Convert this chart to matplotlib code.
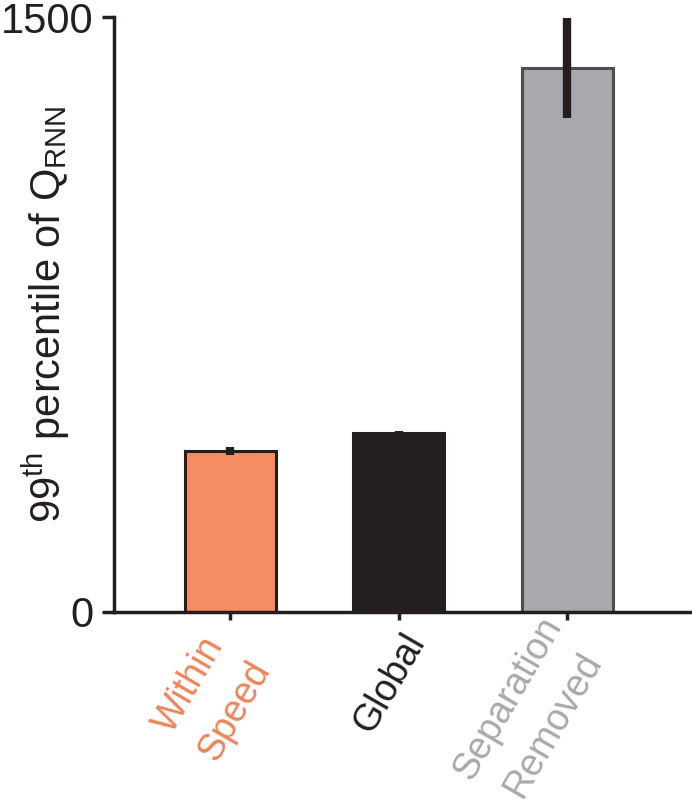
import matplotlib
matplotlib.use("Agg")
import matplotlib.pyplot as plt
import numpy as np

plt.rcParams['font.family'] = ['Liberation Sans', 'DejaVu Sans']

categories = ["Within\nSpeed", "Global", "Separation\nRemoved"]
values = [406, 451, 1371]
errors = [9, 5, 126]
bar_colors = ["#F68D62", "#231F20", "#A7A9AC"]
edge_colors = ["#231F20", "#231F20", "#4D4D4F"]
label_colors = ["#EE8459", "#231F20", "#A7A9AC"]
yticks = [0, 1500]

# pixel offsets of each category label (right-centre anchor) from its tick
label_offsets = [(9, -39), (18, -24), (9, -21)]

fig = plt.figure(figsize=(6.92, 8.06), dpi=100)
ax = fig.add_axes([0.165, 0.2407, 0.835, 0.738])

x = np.arange(len(categories))
ax.bar(x, values, width=0.54, color=bar_colors, edgecolor=edge_colors, linewidth=2.2, zorder=2)
ax.errorbar(x, values, yerr=errors, fmt='none', ecolor="#231F20", elinewidth=6, capsize=0, zorder=3, clip_on=False)

ax.set_xlim(-0.69, 2.74)
ax.set_ylim(0, 1500)
ax.set_yticks(yticks)
ax.set_yticklabels([str(t) for t in yticks], fontsize=30)
ax.set_xticks(x)
ax.set_xticklabels([])
for xi, cat, c, off in zip(x, categories, label_colors, label_offsets):
    ax.annotate(cat, xy=(xi, 0), xycoords='data', xytext=off, textcoords='offset pixels',
                rotation=60, rotation_mode='anchor', ha='right', va='center',
                multialignment='center', linespacing=1.6, fontsize=27, color=c,
                annotation_clip=False)

for s in ['top', 'right']:
    ax.spines[s].set_visible(False)
for s in ['left', 'bottom']:
    ax.spines[s].set_linewidth(2.5)
    ax.spines[s].set_color("#231F20")
ax.tick_params(axis='y', length=9, width=2.5, color="#231F20", pad=6, labelcolor="#231F20")
ax.tick_params(axis='x', length=6, width=2.5, color="#231F20")

ax.set_ylabel("99$^{\\mathregular{th}}$ percentile of Q$_{\\mathregular{RNN}}$", fontsize=30,
              color="#231F20", va='center')
ax.yaxis.set_label_coords(-0.118, 0.5)

fig.savefig("out.png", dpi=100)
